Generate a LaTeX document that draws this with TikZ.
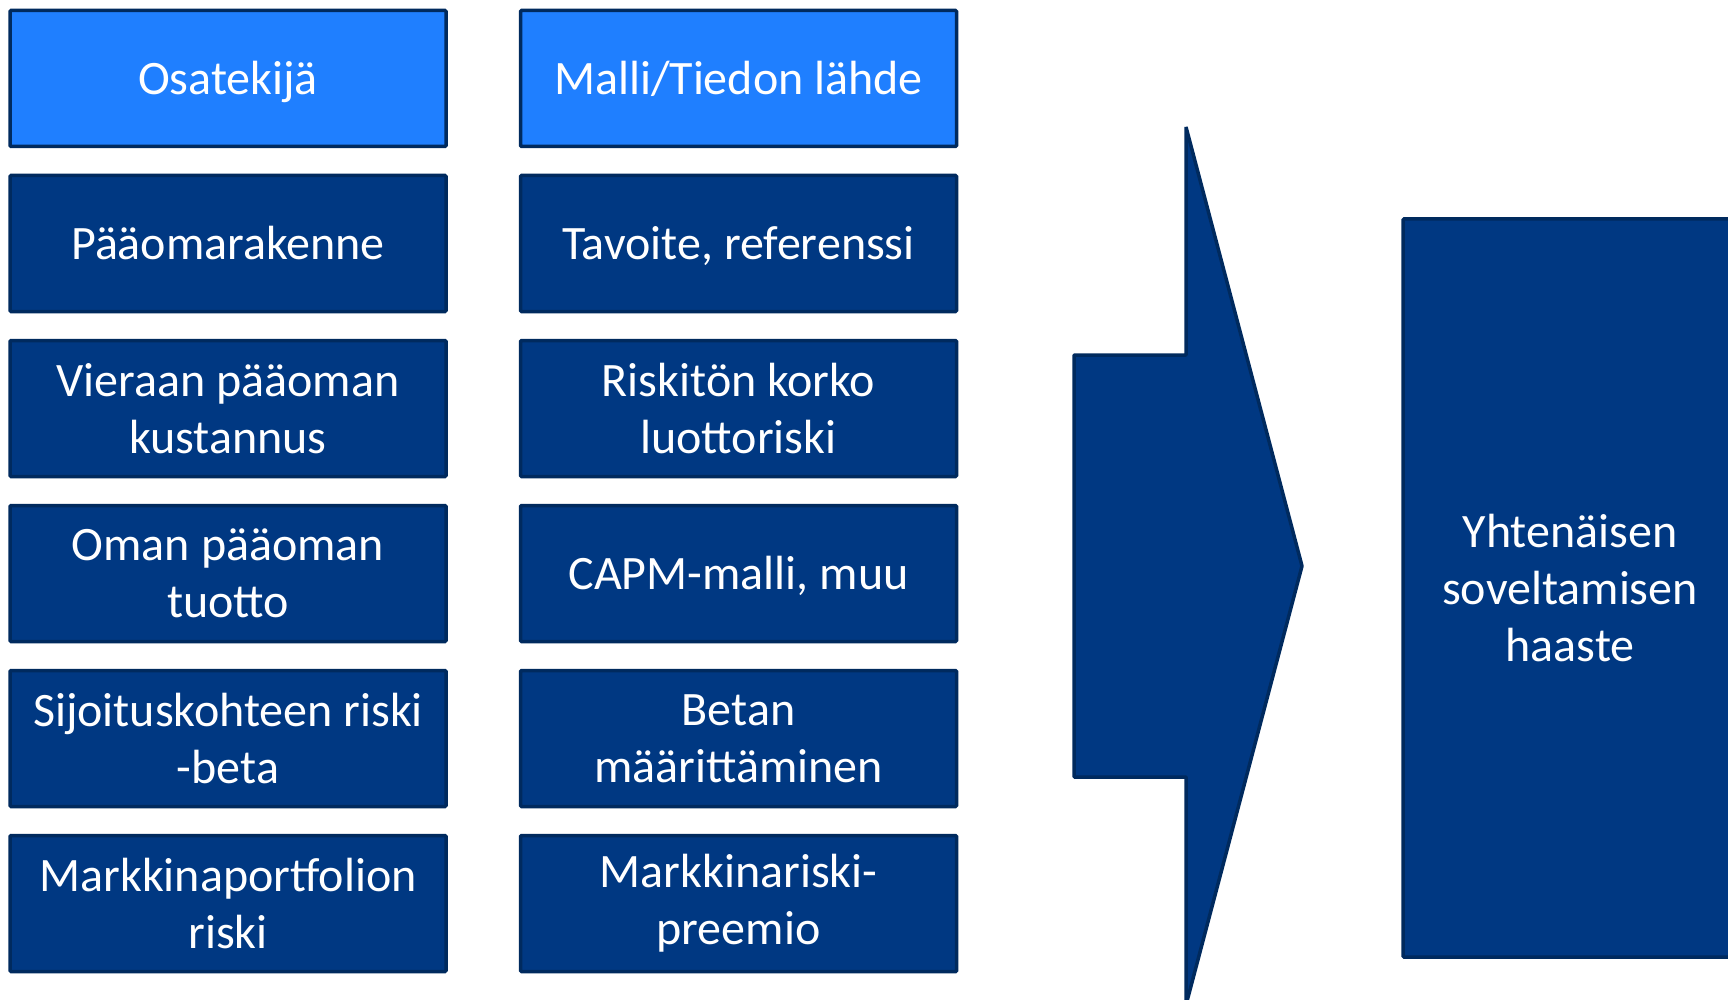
\documentclass[tikz,border=0pt]{standalone}
\usepackage{fontspec}
\setmainfont{Carlito}
\usepackage{tikz}
\usetikzlibrary{positioning}
\definecolor{kkHead}{HTML}{1F7FFF}
\definecolor{kkFill}{HTML}{003882}
\definecolor{kkEdge}{HTML}{002A5E}
\tikzset{
  kknode/.style={
    draw=kkEdge, line width=3.5pt, rounded corners=1pt, minimum width=436pt,
    minimum height=136pt, inner sep=0pt, text=white, align=center,
    font=\fontsize{48}{57}\selectfont
  },
  oneline/.style={text height=40pt, text depth=8pt},
  headbox/.style={kknode, oneline, fill=kkHead},
  itembox/.style={kknode, fill=kkFill},
  bigbox/.style={itembox, minimum width=334pt, minimum height=738pt},
  bigarrow/.style={draw=kkEdge, line width=3.5pt, fill=kkFill, line join=bevel}
}

\begin{document}
\begin{tikzpicture}[x=1pt, y=-1pt, node distance=25.5pt]
  \clip (0,0) rectangle (1728,1000);
  % vasen sarake
  \node[headbox] (osa) at (228,78.5) {Osatekijä};
  \node[itembox, oneline, below=of osa] (rak) {Pääomarakenne};
  \node[itembox, below=of rak] (vie) {Vieraan pääoman\\kustannus};
  \node[itembox, below=of vie] (oma) {Oman pääoman\\tuotto};
  \node[itembox, below=of oma] (sij) {Sijoituskohteen riski\\-beta};
  \node[itembox, below=of sij] (mpo) {Markkinaportfolion\\riski};
  % oikea sarake
  \node[headbox, right=71pt of osa] (mal) {Malli/Tiedon lähde};
  \node[itembox, oneline, right=71pt of rak] (tav) {Tavoite, referenssi};
  \node[itembox, right=71pt of vie] (ris) {Riskitön korko\\luottoriski};
  \node[itembox, oneline, right=71pt of oma] (capm) {CAPM-malli, muu};
  \node[itembox, right=71pt of sij] (bet) {Betan\\määrittäminen};
  \node[itembox, right=71pt of mpo] (pre) {Markkinariski-\\preemio};
  % nuoli ja tulos
  \draw[bigarrow] (1074,355) -- (1186,355) -- (1186,127) -- (1302,566)
    -- (1186,1005) -- (1186,777) -- (1074,777) -- cycle;
  \node[bigbox] (haaste) at (1570,588) {Yhtenäisen\\soveltamisen\\haaste};
\end{tikzpicture}
\end{document}
